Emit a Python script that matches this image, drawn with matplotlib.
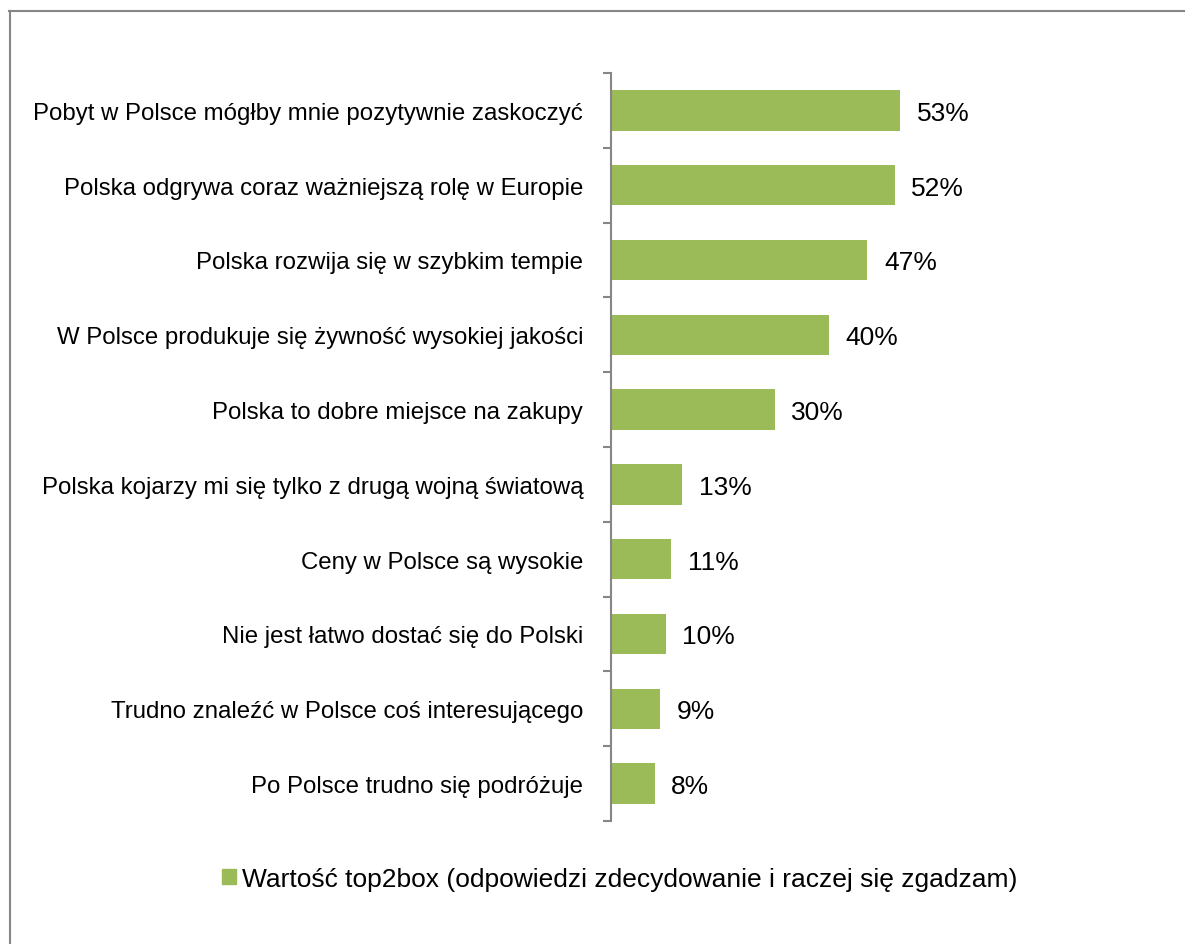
import numpy as np
from matplotlib import pyplot as plt
from matplotlib.lines import Line2D
from matplotlib.patches import Patch

labels = [
    "Pobyt w Polsce mógłby mnie pozytywnie zaskoczyć",
    "Polska odgrywa coraz ważniejszą rolę w Europie",
    "Polska rozwija się w szybkim tempie",
    "W Polsce produkuje się żywność wysokiej jakości",
    "Polska to dobre miejsce na zakupy",
    "Polska kojarzy mi się tylko z drugą wojną światową",
    "Ceny w Polsce są wysokie",
    "Nie jest łatwo dostać się do Polski",
    "Trudno znaleźć w Polsce coś interesującego",
    "Po Polsce trudno się podróżuje",
]
values = [53, 52, 47, 40, 30, 13, 11, 10, 9, 8]
series_name = "Wartość top2box (odpowiedzi zdecydowanie i raczej się zgadzam)"

plt.rcParams["font.family"] = ["Liberation Sans", "DejaVu Sans"]
green = "#9BBB59"
grey = "#868686"

fig = plt.figure(figsize=(11.85, 9.45), dpi=100)
ax = fig.add_axes([611 / 1185, 1 - 822 / 945, (1150 - 611) / 1185, (822 - 74) / 945])

pos = np.arange(len(labels))
ax.barh(pos, values, height=0.54, color=green)
for p, v in zip(pos, values):
    ax.annotate(f"{v}%", (v, p), xytext=(12, 0), textcoords="offset points",
                ha="left", va="center_baseline", fontsize=19)

ax.set_ylim(len(labels) - 0.5, -0.5)
ax.set_xlim(0, (1150 - 611) / (289 / 53))
ax.set_yticks(pos)
ax.set_yticklabels(labels, fontsize=17.3)
ax.set_yticks(np.arange(len(labels) + 1) - 0.5, minor=True)
ax.tick_params(axis="y", which="major", length=0, pad=20)
ax.tick_params(axis="y", which="minor", length=6, width=1.5, color=grey)
ax.set_xticks([])
for s in ["top", "right", "bottom"]:
    ax.spines[s].set_visible(False)
ax.spines["left"].set_color(grey)
ax.spines["left"].set_linewidth(1.5)

# legend below the chart
fig.legend(handles=[Patch(color=green)], labels=[series_name],
           loc="center", bbox_to_anchor=(620 / 1185, 1 - 880 / 945),
           frameon=False, fontsize=19, handlelength=0.5, handleheight=0.5,
           handletextpad=0.25)

# outer frame (top and left only)
fig.add_artist(Line2D([9 / 1185, 1], [1 - 12 / 945, 1 - 12 / 945], color=grey, lw=1.5))
fig.add_artist(Line2D([10 / 1185, 10 / 1185], [0, 1 - 12 / 945], color=grey, lw=1.5))

fig.savefig("out.png", dpi=100)
